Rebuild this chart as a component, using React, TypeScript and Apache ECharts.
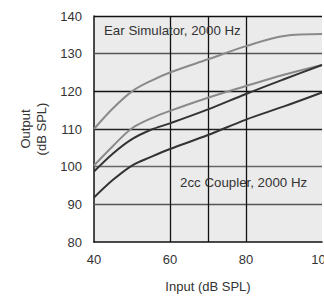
import React, { useEffect, useRef } from "react";
import * as echarts from "echarts";

const inputs = [40, 45, 50, 55, 60, 70, 80, 90, 100];
const earSimHigh = [110, 115.5, 120, 122.8, 125, 128.5, 132, 134.7, 135.2];
const earSimLow = [100.3, 105.5, 110.2, 112.8, 114.8, 118.3, 121.4, 124.4, 127];
const couplerHigh = [98.7, 103.5, 107.3, 109.8, 111.5, 115.2, 119.3, 123.2, 127];
const couplerLow = [91.8, 96.5, 100.3, 102.6, 104.7, 108.4, 112.5, 116, 119.7];

const hGrid = [
  { value: 140, color: "#111" },
  { value: 130, color: "#555" },
  { value: 120, color: "#111" },
  { value: 110, color: "#222" },
  { value: 100, color: "#666" },
  { value: 90, color: "#555" },
];
const vGrid = [60, 70, 80];

const labelEar = "Ear Simulator, 2000 Hz";
const labelCoupler = "2cc Coupler, 2000 Hz";

const pair = (ys: number[]) => inputs.map((x, i) => [x, ys[i]]);

export default function App() {
  const ref = useRef<HTMLDivElement>(null);
  useEffect(() => {
    document.body.style.margin = "0";
    const chart = echarts.init(ref.current!, null, { renderer: "svg" });
    const font = "'Liberation Sans', Arial, Helvetica, sans-serif";
    const lineSeries = (ys: number[], color: string) => ({
      type: "line",
      data: pair(ys),
      smooth: 0.35,
      showSymbol: false,
      symbol: "none",
      lineStyle: { color, width: 2 },
      z: 5,
    });
    chart.setOption({
      animation: false,
      textStyle: { fontFamily: font },
      grid: {
        left: 94,
        right: 2,
        top: 16,
        bottom: 55,
        show: true,
        backgroundColor: "#ebebeb",
        borderWidth: 0,
        containLabel: false,
        outerBoundsMode: "none",
      },
      xAxis: {
        type: "value",
        min: 40,
        max: 100,
        interval: 20,
        axisLine: { show: true, lineStyle: { color: "#111", width: 1.5 } },
        axisTick: { show: false },
        splitLine: { show: false },
        axisLabel: { color: "#333", fontSize: 13, margin: 11, fontFamily: font },
        name: "Input (dB SPL)",
        nameLocation: "middle",
        nameGap: 38,
        nameTextStyle: { color: "#333", fontSize: 13, fontFamily: font },
      },
      yAxis: {
        type: "value",
        min: 80,
        max: 140,
        interval: 10,
        axisLine: { show: true, lineStyle: { color: "#111", width: 1.5 } },
        axisTick: { show: false },
        splitLine: { show: false },
        axisLabel: { color: "#333", fontSize: 13, margin: 12, fontFamily: font },
        name: "Output\n(dB SPL)",
        nameLocation: "middle",
        nameGap: 41,
        nameRotate: 90,
        nameTextStyle: { color: "#333", fontSize: 13, lineHeight: 16, fontFamily: font },
      },
      series: [
        {
          type: "line",
          data: [],
          z: 2,
          markLine: {
            silent: true,
            symbol: "none",
            label: { show: false },
            data: [
              ...hGrid.map((g) => ({ yAxis: g.value, lineStyle: { color: g.color, width: 1.3, type: "solid" } })),
              ...vGrid.map((v) => ({ xAxis: v, lineStyle: { color: "#111", width: 1.3, type: "solid" } })),
            ],
          },
        },
        lineSeries(earSimHigh, "#8a8a8a"),
        lineSeries(earSimLow, "#8a8a8a"),
        lineSeries(couplerHigh, "#333"),
        lineSeries(couplerLow, "#333"),
      ],
      graphic: [
        {
          type: "text",
          left: 104,
          top: 24,
          z: 10,
          style: { text: labelEar, fill: "#333", fontSize: 13.3, fontFamily: font },
        },
        {
          type: "text",
          left: 180,
          top: 176,
          z: 10,
          style: { text: labelCoupler, fill: "#333", fontSize: 13.3, fontFamily: font },
        },
      ],
    });
    return () => chart.dispose();
  }, []);
  return (
    <div
      ref={ref}
      style={{ position: "absolute", left: 0, top: 0, width: 324, height: 297 }}
    />
  );
}
